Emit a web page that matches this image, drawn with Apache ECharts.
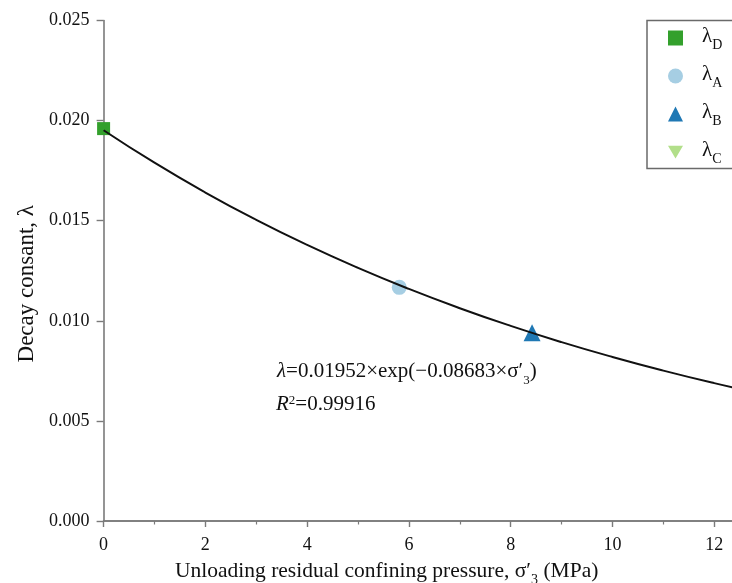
<!DOCTYPE html>
<html>
<head>
<meta charset="utf-8">
<script src="https://cdn.jsdelivr.net/npm/echarts@6/dist/echarts.min.js"></script>
<style>
  html, body { margin: 0; padding: 0; background: #fff; }
  #chart { width: 732px; height: 583px; }
</style>
</head>
<body>
<div id="chart"></div>
<script>
// Measured decay constants against unloading residual confining pressure (MPa)
const pointD = [[0, 0.0196]];
const pointA = [[5.81, 0.01167]];
const pointB = [[8.42, 0.0094]];
const pointC = [[12.53, 0.0066]];

// Fitted exponential curve: lambda = 0.01952 * exp(-0.08683 * s3), tabulated per MPa
const fitX = [0, 1, 2, 3, 4, 5, 6, 7, 8, 9, 10, 11, 12, 13, 14];
const fitY = [0.01952, 0.017897, 0.016408, 0.015043, 0.013792, 0.012645, 0.011594,
              0.010630, 0.009746, 0.008935, 0.008192, 0.007511, 0.006886, 0.006313, 0.005788];

const xTicks = [0, 2, 4, 6, 8, 10, 12, 14];
const yTicks = ['0.000', '0.005', '0.010', '0.015', '0.020', '0.025'];

const serif = '"Liberation Serif", "DejaVu Serif", serif';
const axisGray = '#7a7a7a';
const downTriangle = 'path://M0,0 L20,0 L10,17 Z';

const chart = echarts.init(document.getElementById('chart'), null, { renderer: 'canvas' });

const legendRich = {
  l: { fontFamily: serif, fontSize: 21, color: '#111', verticalAlign: 'bottom' },
  s: { fontFamily: serif, fontSize: 14, color: '#111', verticalAlign: 'bottom', padding: [0, 0, -6, 0] }
};

chart.setOption({
  animation: false,
  backgroundColor: '#fff',
  grid: { left: 103.6, right: -84, top: 20.5, bottom: 62, outerBoundsMode: 'none', containLabel: false },
  xAxis: [{
    type: 'value',
    min: xTicks[0],
    max: xTicks[xTicks.length - 1],
    interval: 2,
    axisLine: { show: true, onZero: false, lineStyle: { color: axisGray, width: 1.6 } },
    axisTick: { show: true, inside: false, length: 6, lineStyle: { color: axisGray, width: 1.4 } },
    minorTick: { show: true, splitNumber: 2, length: 3.5, lineStyle: { color: axisGray, width: 1.2 } },
    splitLine: { show: false },
    axisLabel: { fontFamily: serif, fontSize: 18, color: '#111', margin: 15 }
  }, {
    type: 'value',
    position: 'top',
    min: xTicks[0],
    max: xTicks[xTicks.length - 1],
    axisLine: { show: true, lineStyle: { color: axisGray, width: 1.6 } },
    axisTick: { show: false },
    axisLabel: { show: false },
    splitLine: { show: false }
  }],
  yAxis: {
    type: 'value',
    min: 0,
    max: 0.025,
    interval: 0.005,
    name: 'Decay consant, λ',
    nameLocation: 'middle',
    nameGap: 65,
    nameTextStyle: { fontFamily: serif, fontSize: 23, color: '#111', padding: [0, 26, 0, 0] },
    axisLine: { show: true, lineStyle: { color: axisGray, width: 1.6 } },
    axisTick: { show: true, inside: false, length: 7, lineStyle: { color: axisGray, width: 1.4 } },
    splitLine: { show: false },
    axisLabel: {
      fontFamily: serif, fontSize: 18, color: '#111', margin: 14,
      formatter: (v) => yTicks[Math.round(v / 0.005)]
    }
  },
  legend: {
    orient: 'vertical',
    left: 647,
    top: 20.5,
    padding: [5, 60, 2, 21],
    itemGap: 11,
    itemWidth: 15,
    itemHeight: 15,
    borderColor: '#6a6a6a',
    borderWidth: 1.5,
    backgroundColor: '#fff',
    data: ['D', 'A', 'B', 'C'],
    formatter: (name) => '{l|λ}{s|' + name + '}',
    textStyle: { padding: [0, 0, 0, 14], height: 25, rich: legendRich }
  },
  graphic: [{
    type: 'text',
    left: 277,
    top: 361,
    style: {
      text: '{i|λ}{n|=0.01952×exp(−0.08683×σ′}{s|3}{n|)}',
      rich: {
        i: { fontFamily: serif, fontStyle: 'italic', fontSize: 21, fill: '#111', verticalAlign: 'bottom' },
        n: { fontFamily: serif, fontSize: 21, fill: '#111', verticalAlign: 'bottom' },
        s: { fontFamily: serif, fontSize: 13, fill: '#111', verticalAlign: 'bottom', padding: [0, 0, -5, 0] }
      }
    }
  }, {
    type: 'text',
    left: 276,
    top: 394,
    style: {
      text: '{i|R}{p|2}{n|=0.99916}',
      rich: {
        i: { fontFamily: serif, fontStyle: 'italic', fontSize: 21, fill: '#111', verticalAlign: 'bottom' },
        p: { fontFamily: serif, fontSize: 13, fill: '#111', verticalAlign: 'top' },
        n: { fontFamily: serif, fontSize: 21, fill: '#111', verticalAlign: 'bottom' }
      }
    }
  }, {
    type: 'text',
    left: 175,
    top: 560,
    style: {
      text: '{n|Unloading residual confining pressure, σ′}{s|3}{n| (MPa)}',
      rich: {
        n: { fontFamily: serif, fontSize: 21.5, fill: '#111', verticalAlign: 'bottom' },
        s: { fontFamily: serif, fontSize: 14, fill: '#111', verticalAlign: 'bottom', padding: [0, 0, -5, 0] }
      }
    }
  }],
  series: [{
    name: 'D', type: 'scatter', data: pointD, symbol: 'rect', symbolSize: 13,
    itemStyle: { color: '#33a02c', opacity: 1 }, z: 2
  }, {
    name: 'A', type: 'scatter', data: pointA, symbol: 'circle', symbolSize: 15,
    itemStyle: { color: '#a6cee3', opacity: 1 }, z: 2
  }, {
    name: 'B', type: 'scatter', data: pointB, symbol: 'triangle', symbolSize: 17,
    itemStyle: { color: '#1f78b4', opacity: 1 }, z: 2
  }, {
    name: 'C', type: 'scatter', data: pointC, symbol: downTriangle, symbolSize: [18, 16],
    itemStyle: { color: '#b2df8a', opacity: 1 }, z: 2
  }, {
    name: 'fit', type: 'line', data: fitX.map((x, i) => [x, fitY[i]]),
    smooth: true, showSymbol: false, symbol: 'none',
    lineStyle: { color: '#111', width: 2 }, z: 3
  }]
});
</script>
</body>
</html>
